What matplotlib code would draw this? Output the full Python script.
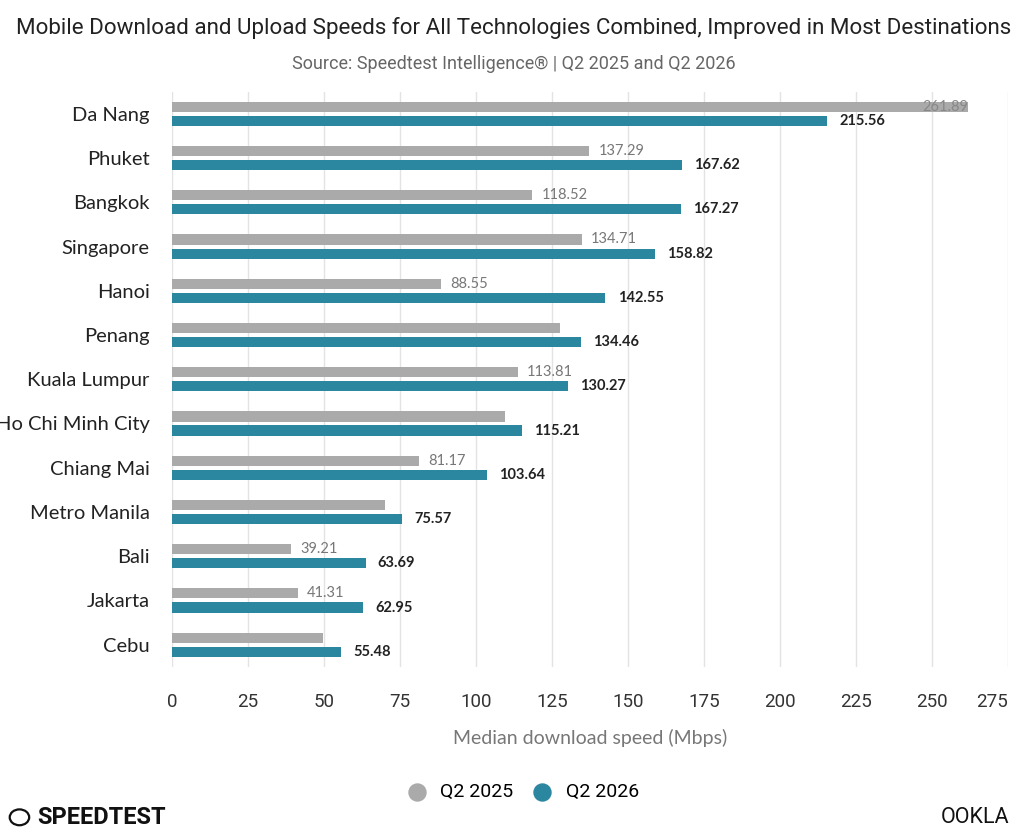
import numpy as np
import matplotlib.pyplot as plt
from matplotlib.patches import Circle

cities = ["Da Nang", "Phuket", "Bangkok", "Singapore", "Hanoi", "Penang",
          "Kuala Lumpur", "Ho Chi Minh City", "Chiang Mai", "Metro Manila",
          "Bali", "Jakarta", "Cebu"]
q2_2025 = [261.89, 137.29, 118.52, 134.71, 88.55, 127.7,
           113.81, 109.5, 81.17, 70.1, 39.21, 41.31, 49.5]
q2_2026 = [215.56, 167.62, 167.27, 158.82, 142.55, 134.46,
           130.27, 115.21, 103.64, 75.57, 63.69, 62.95, 55.48]
# some grey labels are not shown on the original chart
show_2025 = [True, True, True, True, True, False,
             True, False, True, False, True, True, False]
xticks = [0, 25, 50, 75, 100, 125, 150, 175, 200, 225, 250, 275]

gray = "#aaaaaa"
teal = "#2b87a0"
narrow = ["Roboto", "DejaVu Sans"]

plt.rcParams['font.family'] = ["Lato", "DejaVu Sans"]

fig = plt.figure(figsize=(10.24, 8.34), dpi=100)
ax = fig.add_axes([0.168, 0.2005, 0.8164, 0.6895])

y = np.arange(len(cities))
h = 0.23
off = 0.16
ax.barh(y - off, q2_2025, height=h, color=gray, zorder=3)
ax.barh(y + off, q2_2026, height=h, color=teal, zorder=3)

for i in range(len(cities)):
    if show_2025[i]:
        v = q2_2025[i]
        if v > 240:
            ax.text(v, y[i] - off, f"{v:.2f}", ha="right", va="center",
                    fontsize=10.5, color="#888888", zorder=4)
        else:
            ax.text(v + 3, y[i] - off, f"{v:.2f}", ha="left", va="center",
                    fontsize=10.5, color="#777777", zorder=4)
    ax.text(q2_2026[i] + 4, y[i] + off, f"{q2_2026[i]:.2f}", ha="left",
            va="center", fontsize=10.5, fontweight="bold", color="#222222", zorder=4)

ax.set_ylim(len(cities) - 0.5, -0.5)
ax.set_xlim(0, 275)
ax.set_xticks(xticks)
ax.set_xticklabels([str(t) for t in xticks], family=narrow, fontsize=13.5,
                   color="#333333")
ax.get_xticklabels()[-1].set_horizontalalignment("right")
ax.set_yticks(y)
ax.set_yticklabels(cities, fontsize=14.5, color="#222222")
ax.tick_params(axis="both", length=0)
ax.tick_params(axis="x", pad=19)
ax.tick_params(axis="y", pad=16)
ax.grid(axis="x", color="#e3e3e3", linewidth=1, zorder=0)
for s in ax.spines.values():
    s.set_visible(False)
ax.set_xlabel("Median download speed (Mbps)", fontsize=14, color="#777777",
              labelpad=13)

fig.text(0.502, 0.967, "Mobile Download and Upload Speeds for All Technologies Combined, Improved in Most Destinations",
         ha="center", va="center", fontsize=16.1, family=narrow, color="#222222")
fig.text(0.502, 0.923, "Source: Speedtest Intelligence\u00ae | Q2 2025 and Q2 2026",
         ha="center", va="center", fontsize=13, family=narrow, color="#666666")

# legend
ax.scatter([], [], s=150, color=gray, label="Q2 2025")
ax.scatter([], [], s=150, color=teal, label="Q2 2026")
fig.legend(loc="center", bbox_to_anchor=(0.506, 0.05), ncol=2, frameon=False,
           handletextpad=0.2, columnspacing=0.5,
           prop={"family": narrow, "size": 14})

# logos
fig.text(0.036, 0.02, "SPEEDTEST", ha="left", va="center", fontsize=17,
         fontweight="bold", family=narrow, color="#111111")
fig.patches.append(Circle((0.019, 0.02), 0.0095, transform=fig.transFigure,
                          fill=False, edgecolor="#111111", linewidth=1.6))
fig.text(0.986, 0.02, "OOKLA", ha="right", va="center", fontsize=15.5,
         family=narrow, color="#111111")

fig.savefig("out.png", dpi=100)
